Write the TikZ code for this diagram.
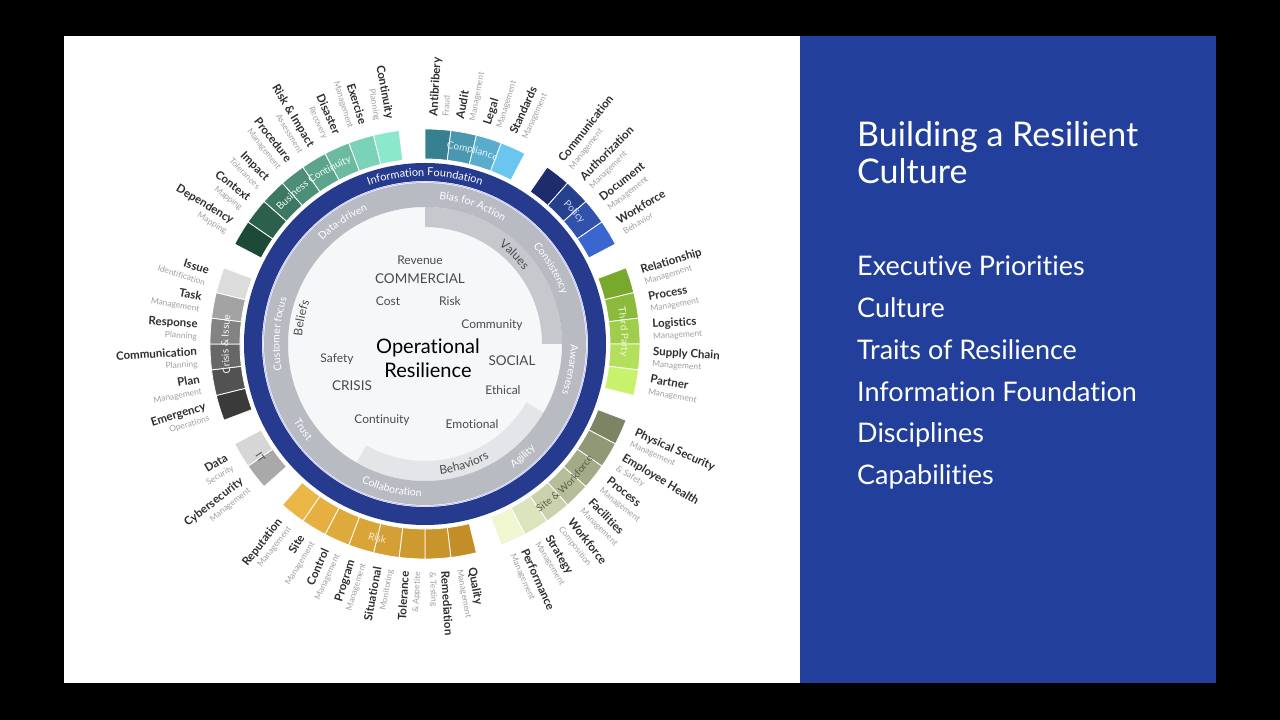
\documentclass[tikz,border=0pt]{standalone}
\usepackage{fontspec}
\setmainfont{Lato}[Ligatures={NoCommon}]
\usetikzlibrary{decorations.text}

\definecolor{panelblue}{HTML}{213F9B}
\definecolor{ringblue}{HTML}{263B8E}
\definecolor{traitgray}{HTML}{B8BBC1}
\definecolor{valgray}{HTML}{C6C8CD}
\definecolor{behgray}{HTML}{E3E5E8}
\definecolor{coregray}{HTML}{F6F7F9}
\definecolor{txtdark}{HTML}{2E2E2E}
\definecolor{txtsub}{HTML}{A0A0A0}
\definecolor{txtmid}{HTML}{4A4A4A}
% segment groups, dark and light ends
\definecolor{coD}{HTML}{37808F}\definecolor{coL}{HTML}{6AC6EE}
\definecolor{poD}{HTML}{1D2C6B}\definecolor{poL}{HTML}{3A66CF}
\definecolor{tpD}{HTML}{78A82C}\definecolor{tpL}{HTML}{C8F26C}
\definecolor{swD}{HTML}{7C8563}\definecolor{swL}{HTML}{F0F7D0}
\definecolor{rkR}{HTML}{C38E27}\definecolor{rkL}{HTML}{EAB645}
\definecolor{itD}{HTML}{A9A9A9}\definecolor{itL}{HTML}{D6D6D6}
\definecolor{crD}{HTML}{3A3A3A}\definecolor{crL}{HTML}{DCDCDC}
\definecolor{bcD}{HTML}{1C4A37}\definecolor{bcL}{HTML}{8CE8CB}

% text along an arc: centre angle, radius, half span, format, text
\newcommand\arctextcw[5]{%
  \path[decorate, decoration={text along path, text align=center, text={|#4|#5}}]
    (#1+#3:#2) arc[start angle=#1+#3, end angle=#1-#3, radius=#2];}
\newcommand\arctextccw[5]{%
  \path[decorate, decoration={text along path, text align=center, text={|#4|#5}}]
    (#1-#3:#2) arc[start angle=#1-#3, end angle=#1+#3, radius=#2];}

\begin{document}
\begin{tikzpicture}[x=1pt, y=1pt,
  seglabel/.style={inner sep=0pt, text=txtdark, font=\fontsize{11.5}{11.5}\selectfont},
  core/.style={inner sep=1pt, text=txtmid, font=\fontsize{12}{14}\selectfont},
  corebig/.style={inner sep=1pt, text=txtmid, font=\fontsize{13.5}{16}\selectfont},
  paneltxt/.style={anchor=base west, inner sep=0pt, text=white}]
\useasboundingbox (0,0) rectangle (1280,720);
\fill[black] (0,0) rectangle (1280,720);
\fill[white] (64,37) rectangle (800,684);
\fill[panelblue] (800,37) rectangle (1216,684);

% right panel
\node[paneltxt, font=\fontsize{34}{40}\selectfont] (t1) at (857,573) {Building a Resilient};
\node[paneltxt, font=\fontsize{34}{40}\selectfont] (t2) at (857,536) {Culture};
\foreach \t [count=\i] in {Executive Priorities, Culture, Traits of Resilience,
    Information Foundation, Disciplines, Capabilities}
  \node[paneltxt, font=\fontsize{27}{32}\selectfont] (p\i) at (857,486-\i*41.8) {\t};

\begin{scope}[shift={(425,376)}]
  % culture rings
  \fill[coregray] (0,0) circle (137);
  \fill[valgray] (90:137) arc[start angle=90, end angle=0, radius=137]
    -- (0:117) arc[start angle=0, end angle=90, radius=117] -- cycle;
  \fill[behgray] (240:137) arc[start angle=240, end angle=330, radius=137]
    -- (330:117) arc[start angle=330, end angle=240, radius=117] -- cycle;
  \fill[traitgray, even odd rule] (0,0) circle (161) (0,0) circle (137);
  \fill[ringblue, even odd rule] (0,0) circle (181) (0,0) circle (163);
  \draw[white!75!blue, line width=0.8] (0,0) circle (162);

  % disciplines and capabilities
  \pgfmathsetmacro\segw{360/52}
  \foreach \k/\c/\nm/\sb in {
      0/coD/Antibribery/Fraud, 1/coD!65!coL/Audit/Management,
      2/coD!35!coL/Legal/Management, 3/coL/Standards/Management,
      5/poD/Communication/Management, 6/poD!65!poL/Authorization/Management,
      7/poD!35!poL/Document/Management, 8/poL/Workforce/Behavior,
      10/tpD/Relationship/Management, 11/tpD!75!tpL/Process/Management,
      12/tpD!50!tpL/Logistics/Management, 13/tpD!25!tpL/Supply Chain/Management,
      14/tpL/Partner/Management,
      16/swD/Physical Security/Management, 17/swD!83!swL/Employee Health/\& Safety,
      18/swD!67!swL/Process/Management, 19/swD!50!swL/Facilities/Management,
      20/swD!33!swL/Workforce/Composition, 21/swD!17!swL/Strategy/Management,
      22/swL/Performance/Management,
      24/rkR/Quality/Management, 25/rkR!86!rkL/Remediation/\& Testing,
      26/rkR!71!rkL/Tolerance/\& Appetite, 27/rkR!57!rkL/Situational/Monitoring,
      28/rkR!43!rkL/Program/Management, 29/rkR!29!rkL/Control/Management,
      30/rkR!14!rkL/Site/Management, 31/rkL/Reputation/Management,
      33/itD/Cybersecurity/Management, 34/itL/Data/Security,
      36/crD/Emergency/Operations, 37/crD!85!crL/Plan/Management,
      38/crD!72!crL/Communication/Planning, 39/crD!55!crL/Response/Planning,
      40/crD!35!crL/Task/Management, 41/crL/Issue/Identification,
      43/bcD/Dependency/Mapping, 44/bcD!86!bcL/Context/Mapping,
      45/bcD!71!bcL/Impact/Tolerances, 46/bcD!57!bcL/Procedure/Management,
      47/bcD!43!bcL/Risk \& Impact/Assessment, 48/bcD!29!bcL/Disaster/Recovery,
      49/bcD!14!bcL/Exercise/Management, 50/bcL/Continuity/Planning} {
    \pgfmathsetmacro\aa{90-\k*\segw}
    \pgfmathsetmacro\ab{90-(\k+1)*\segw}
    \pgfmathsetmacro\am{90-(\k+0.5)*\segw}
    \filldraw[fill=\c, draw=white, line width=0.8]
      (\aa:185) arc[start angle=\aa, end angle=\ab, radius=185]
      -- (\ab:215) arc[start angle=\ab, end angle=\aa, radius=215] -- cycle;
    \pgfmathtruncatemacro\rgt{cos(\am)>=0}
    \ifnum\rgt=1
      \node[seglabel, rotate=\am, anchor=west, align=left] (l\k) at (\am:228)
        {\textbf{\nm}\\{\color{txtsub}\fontsize{8.5}{11}\selectfont\sb}};
    \else
      \pgfmathsetmacro\ro{\am+180}
      \node[seglabel, rotate=\ro, anchor=east, align=right] (l\k) at (\am:228)
        {\textbf{\nm}\\{\color{txtsub}\fontsize{8.5}{11}\selectfont\sb}};
    \fi
  }

  % group names on the segments
  \arctextcw{124.6}{196.5}{40}{\fontsize{10}{10}\selectfont\color{white!85!bcL}}{Business Continuity}
  \arctextcw{76.2}{196.5}{30}{\fontsize{10}{10}\selectfont\color{white!80!coL}}{Compliance}
  \arctextcw{41.5}{196.5}{30}{\fontsize{10}{10}\selectfont\color{white!75!poL}}{Policy}
  \arctextcw{3.5}{196.5}{30}{\fontsize{10}{10}\selectfont\color{white!70!tpL}}{Third Party}
  \arctextccw{-45}{203.5}{35}{\fontsize{10}{10}\selectfont\color{swD!70!black}}{Site {\&} Workforce}
  \arctextccw{-103.8}{203.5}{30}{\fontsize{10}{10}\selectfont\color{white!75!rkL}}{Risk}
  \arctextccw{214.6}{203.5}{30}{\fontsize{10}{10}\selectfont\color{txtmid}}{IT}
  \arctextcw{180}{196.5}{35}{\fontsize{10}{10}\selectfont\color{white!90!crL}}{Crisis {\&} Issue}

  % information foundation and traits
  \arctextcw{90}{168}{40}{\fontsize{11}{11}\selectfont\color{white}}{Information Foundation}
  \arctextcw{124}{145.5}{35}{\fontsize{10.5}{11}\selectfont\color{white}}{Data-driven}
  \arctextcw{71}{145.5}{35}{\fontsize{10.5}{11}\selectfont\color{white}}{Bias for Action}
  \arctextcw{31}{145.5}{35}{\fontsize{10.5}{11}\selectfont\color{white}}{Consistency}
  \arctextcw{-10}{145.5}{35}{\fontsize{10.5}{11}\selectfont\color{white}}{Awareness}
  \arctextccw{-49}{152.5}{35}{\fontsize{10.5}{11}\selectfont\color{white}}{Agility}
  \arctextccw{-103}{152.5}{35}{\fontsize{10.5}{11}\selectfont\color{white}}{Collaboration}
  \arctextccw{215}{152.5}{35}{\fontsize{10.5}{11}\selectfont\color{white}}{Trust}
  \arctextcw{176}{145.5}{35}{\fontsize{10.5}{11}\selectfont\color{white}}{Customer focus}

  % culture
  \arctextcw{45}{123}{35}{\fontsize{12}{12}\selectfont\color{txtmid}}{Values}
  \arctextcw{168}{123}{35}{\fontsize{12}{12}\selectfont\color{txtmid}}{Beliefs}
  \arctextccw{-72}{131}{35}{\fontsize{12}{12}\selectfont\color{txtmid}}{Behaviors}
\end{scope}

% executive priorities
\node[core] (rev) at (420,460) {Revenue};
\node[corebig] (com) at (420,441) {COMMERCIAL};
\node[core] (cost) at (388,419) {Cost};
\node[core] (risk) at (450,419) {Risk};
\node[core] (cmty) at (492,395) {Community};
\node[corebig] (soc) at (512,359) {SOCIAL};
\node[core] (eth) at (503,330) {Ethical};
\node[core] (emo) at (472,296) {Emotional};
\node[core] (cont) at (382,300) {Continuity};
\node[corebig] (cri) at (352,334) {CRISIS};
\node[core] (saf) at (337,361) {Safety};
\node[inner sep=1pt, text=black, font=\fontsize{20}{24}\selectfont, align=center]
  (opres) at (428,362) {Operational\\Resilience};
\end{tikzpicture}
\end{document}
